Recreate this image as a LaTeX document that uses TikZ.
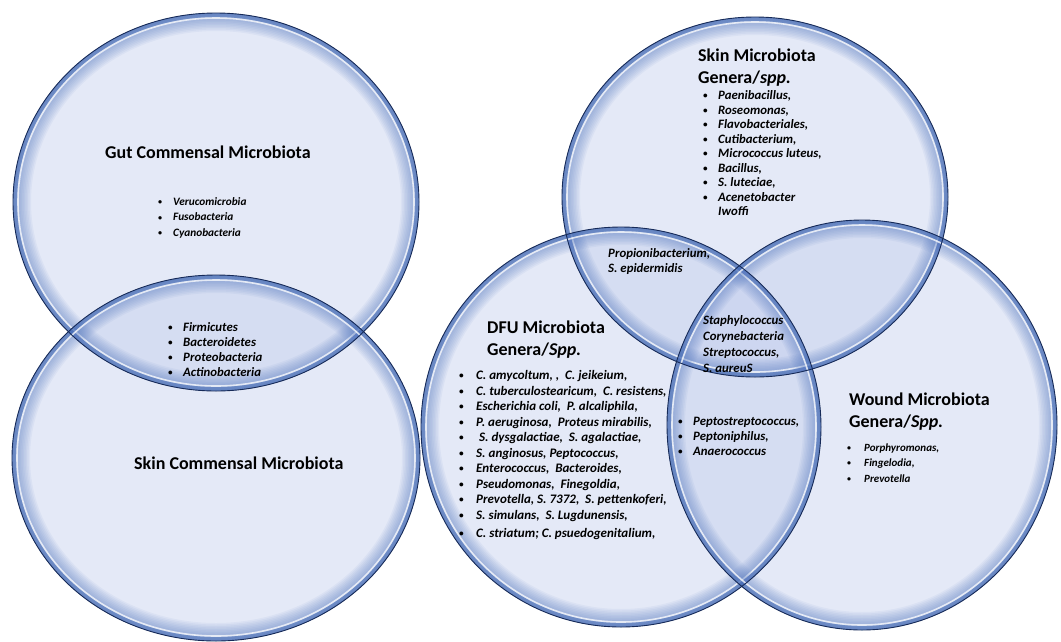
\documentclass[tikz,border=0pt]{standalone}
\usepackage{fontspec}
\usepackage{graphicx}
\setmainfont{Carlito}
\definecolor{vfill}{RGB}{196,207,238}
\definecolor{vglow}{RGB}{90,125,195}
\definecolor{vband}{RGB}{60,100,175}
\definecolor{vedge}{RGB}{22,42,88}
\newlength\bw
\newcommand\bi{\makebox[\bw][l]{\raisebox{0.1ex}{\scalebox{0.7}{•}}}}
\newcommand\nobi{\makebox[\bw][l]{}}
\newcommand\blist[4]{{\fontsize{#1}{#2}\selectfont\setlength\bw{#3}\begin{tabular}[t]{@{}l@{}}#4\end{tabular}}}
\newcommand\tlist[1]{\begin{tabular}[t]{@{}l@{}}#1\end{tabular}}
\tikzset{
  ttl/.style={font=\bfseries\fontsize{18}{22}\selectfont, anchor=base west, inner sep=0pt, text=black},
  lst/.style={font=\bfseries\itshape, anchor=base west, inner sep=0pt, text=black},
  vennfill/.style={fill=vfill, fill opacity=0.45},
  venglow/.style={draw=vglow, opacity=0.07},
  vennband/.style={draw=vband, line width=8pt, opacity=0.45},
  vennedge/.style={draw=vedge, line width=0.9pt},
  vennhi/.style={draw=white, line width=1.6pt, opacity=0.75}
}
\def\ells{216/202/203/189, 216/458/204/183, 755/197/193/180, 621/427/200/200, 862/425/195/205}
\begin{document}
\begin{tikzpicture}[x=1pt,y=-1pt]
\useasboundingbox (0,0) rectangle (1061,641);
\clip (0,0) rectangle (1061,641);
\fill[white] (0,0) rectangle (1061,641);
% fills
\foreach \cx/\cy/\rx/\ry in \ells {
  \fill[vennfill] (\cx,\cy) ellipse [x radius=\rx, y radius=\ry];
}
% inner glow
\foreach \cx/\cy/\rx/\ry in \ells {
  \begin{scope}
    \clip (\cx,\cy) ellipse [x radius=\rx, y radius=\ry];
    \foreach \w in {3,6,...,36} {
      \draw[venglow, line width=\w pt] (\cx,\cy) ellipse [x radius=\rx, y radius=\ry];
    }
    \draw[vennband] (\cx,\cy) ellipse [x radius=\rx, y radius=\ry];
    \draw[vennhi] (\cx,\cy) ellipse [x radius=\rx-5, y radius=\ry-5];
  \end{scope}
}
% outlines
\foreach \cx/\cy/\rx/\ry in \ells {
  \draw[vennedge] (\cx,\cy) ellipse [x radius=\rx, y radius=\ry];
}
% texts
\node[ttl] (gutT) at (105,158) {Gut Commensal Microbiota};
\node[lst] (gutL) at (158,205) {\blist{11.3}{15.7}{15pt}{\bi Verucomicrobia\\ \bi Fusobacteria\\ \bi Cyanobacteria}};
\node[lst] (ovL) at (168,331.5) {\blist{12.8}{15}{15pt}{\bi Firmicutes\\ \bi Bacteroidetes\\ \bi Proteobacteria\\ \bi Actinobacteria}};
\node[ttl] (skcT) at (134,469) {Skin Commensal Microbiota};
\node[ttl] (smT) at (698,61) {\tlist{Skin Microbiota\\ Genera/\textit{spp.}}};
\node[lst] (smL) at (703,99.5) {\blist{12.8}{14.5}{15pt}{\bi Paenibacillus,\\ \bi Roseomonas,\\ \bi Flavobacteriales,\\ \bi Cutibacterium,\\ \bi Micrococcus luteus,\\ \bi Bacillus,\\ \bi S. luteciae,\\ \bi Acenetobacter\\ \nobi Iwoffi}};
\node[lst] (propL) at (608,257.5) {\blist{12.8}{14.5}{0pt}{Propionibacterium,\\ S. epidermidis}};
\node[lst] (staphL) at (703,324.5) {\blist{12.8}{16}{0pt}{Staphylococcus\\ Corynebacteria\\ Streptococcus,\\ S. aureuS}};
\node[ttl] (dfuT) at (487,333) {\tlist{DFU Microbiota\\ Genera/\textit{Spp.}}};
\node[lst] (dfuL) at (459,379.5) {\blist{13}{15.5}{17pt}{\bi C. amycoltum, ,\ \ C. jeikeium,\\
 \bi C. tuberculostearicum,\ \ C. resistens,\\
 \bi Escherichia coli,\ \ P. alcaliphila,\\
 \bi P. aeruginosa,\ \ Proteus mirabilis,\\
 \bi \ S. dysgalactiae,\ \ S. agalactiae,\\
 \bi S. anginosus, Peptococcus,\\
 \bi Enterococcus,\ \ Bacteroides,\\
 \bi Pseudomonas,\ \ Finegoldia,\\
 \bi Prevotella, S. 7372,\ \ S. pettenkoferi,\\
 \bi S. simulans,\ \ S. Lugdunensis,\\[3pt]
 \bi C. striatum; C. psuedogenitalium,}};
\node[lst] (pepL) at (678,425.5) {\blist{12.8}{15}{15pt}{\bi Peptostreptococcus,\\ \bi Peptoniphilus,\\ \bi Anaerococcus}};
\node[ttl] (wT) at (849,405) {\tlist{Wound Microbiota\\ Genera/\textit{Spp.}}};
\node[lst] (wL) at (847,451) {\blist{11}{15.5}{17pt}{\bi Porphyromonas,\\ \bi Fingelodia,\\ \bi Prevotella}};
\end{tikzpicture}
\end{document}
